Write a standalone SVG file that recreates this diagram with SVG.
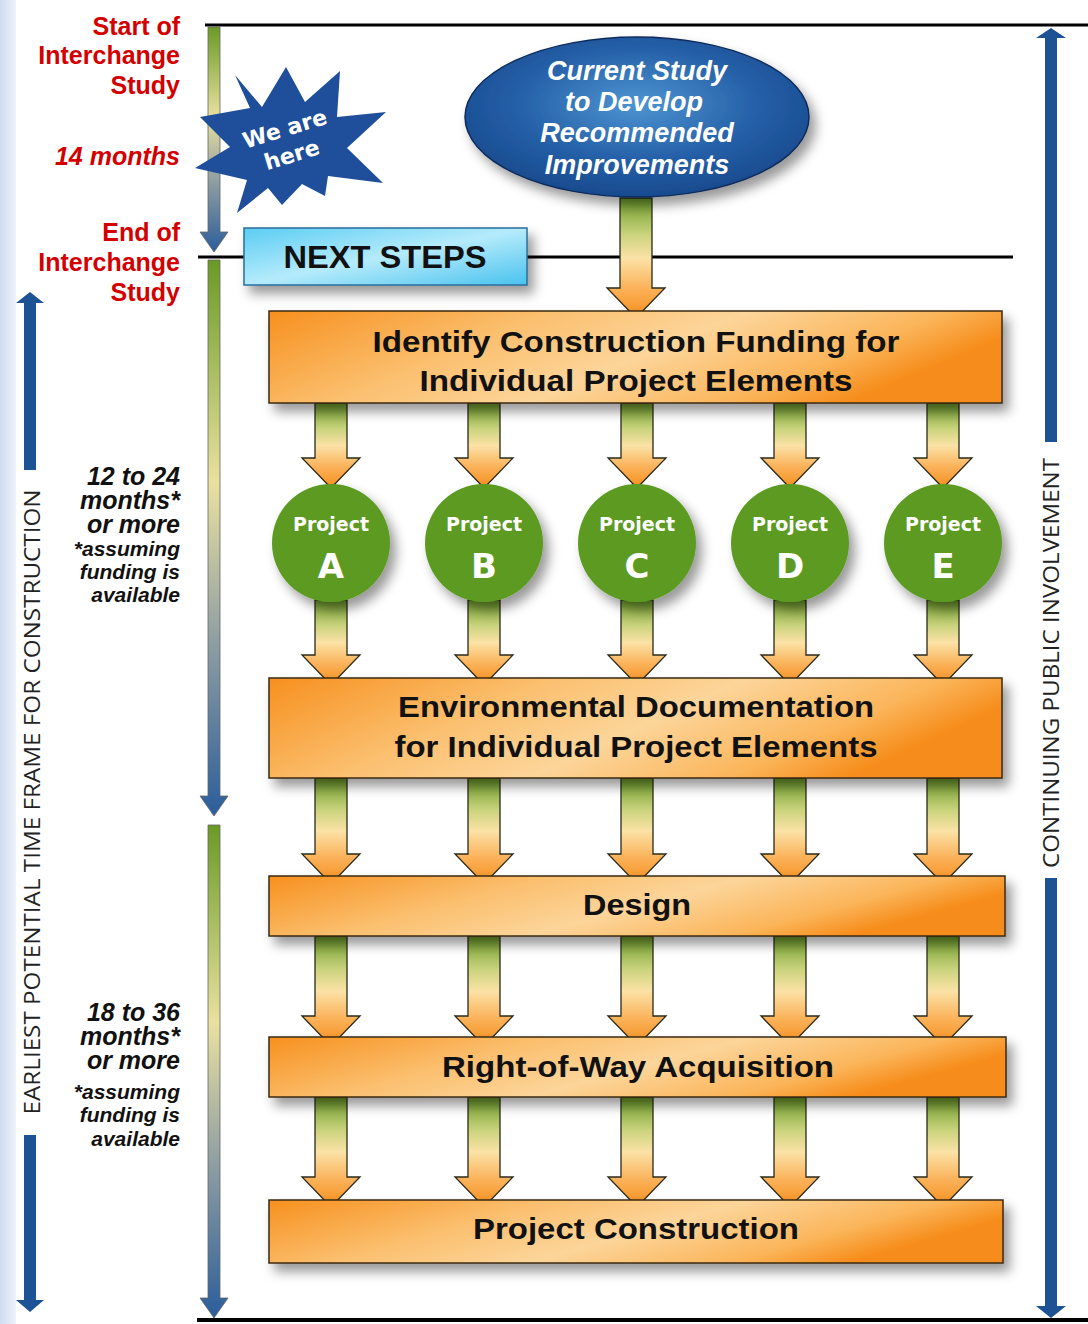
<svg xmlns="http://www.w3.org/2000/svg" width="1088" height="1324" viewBox="0 0 1088 1324">
<defs>
<style>
.red{font-family:"Liberation Sans",Arial,sans-serif;font-weight:bold;font-size:25px;fill:#d40000;text-anchor:end}
.note{font-family:"Liberation Sans",Arial,sans-serif;font-weight:bold;font-style:italic;fill:#111;text-anchor:end}
.box{fill:url(#boxg);stroke:#3a2a10;stroke-width:1.5;filter:url(#sh)}
.bt{font-family:"Liberation Sans",Arial,sans-serif;font-weight:bold;font-size:30px;fill:#111;text-anchor:middle}
.et{font-family:"Liberation Sans",Arial,sans-serif;font-weight:bold;font-style:italic;font-size:27px;fill:#fff;text-anchor:middle}
.arr{fill:url(#arrg);stroke:#2a2a1a;stroke-width:1.3}
.circ{fill:#5b9a22;filter:url(#sh)}
.pt{font-family:"DejaVu Sans",Verdana,sans-serif;font-weight:bold;fill:#fff;text-anchor:middle}
.side{font-family:"Open Sans","DejaVu Sans",sans-serif;font-size:22px;fill:#222;text-anchor:middle}
.blue{fill:#1d5294}
.tl{fill:url(#tlg);stroke:#666;stroke-width:0.8}
</style>
<linearGradient id="boxg" x1="0" y1="0" x2="1" y2="0.3">
<stop offset="0" stop-color="#f7901e"/>
<stop offset="0.35" stop-color="#fbbf6e"/>
<stop offset="0.6" stop-color="#fcd59a"/>
<stop offset="0.85" stop-color="#fbb55a"/>
<stop offset="1" stop-color="#f68c1a"/>
</linearGradient>
<linearGradient id="arrg" x1="0" y1="0" x2="0" y2="1">
<stop offset="0" stop-color="#6a9828"/>
<stop offset="0.3" stop-color="#c9d37c"/>
<stop offset="0.5" stop-color="#fbe2a6"/>
<stop offset="0.75" stop-color="#fbb25a"/>
<stop offset="1" stop-color="#f68e1c"/>
</linearGradient>
<linearGradient id="tlg" x1="0" y1="0" x2="0" y2="1">
<stop offset="0" stop-color="#6a9a25"/>
<stop offset="0.4" stop-color="#e9e1a0"/>
<stop offset="0.65" stop-color="#9aa6a2"/>
<stop offset="1" stop-color="#2b5d9b"/>
</linearGradient>
<linearGradient id="nsg" x1="0" y1="0" x2="1" y2="1">
<stop offset="0" stop-color="#5bcdf3"/>
<stop offset="0.5" stop-color="#b5ebfb"/>
<stop offset="1" stop-color="#49c2ee"/>
</linearGradient>
<radialGradient id="elg" cx="0.5" cy="0.42" r="0.6">
<stop offset="0" stop-color="#4d95d2"/>
<stop offset="0.6" stop-color="#245ea6"/>
<stop offset="1" stop-color="#17498c"/>
</radialGradient>
<linearGradient id="lbg" x1="0" y1="0" x2="1" y2="0">
<stop offset="0" stop-color="#cfdcf1"/>
<stop offset="1" stop-color="#eef2fa"/>
</linearGradient>
<linearGradient id="glg" x1="0" y1="0" x2="1" y2="0">
<stop offset="0" stop-color="#333"/>
<stop offset="1" stop-color="#ddd"/>
</linearGradient>
<filter id="sh" x="-20%" y="-30%" width="140%" height="170%">
<feDropShadow dx="6" dy="8" stdDeviation="6" flood-color="#000" flood-opacity="0.4"/>
</filter>
<path id="a85" d="M-16,0 L16,0 L16,55 L29,55 L0,85 L-29,55 L-16,55 Z"/>
<path id="a106" d="M-16,0 L16,0 L16,76 L29,76 L0,106 L-29,76 L-16,76 Z"/>
<path id="a110" d="M-16,0 L16,0 L16,80 L29,80 L0,110 L-29,80 L-16,80 Z"/>
<path id="a120" d="M-16,0 L16,0 L16,90 L29,90 L0,120 L-29,90 L-16,90 Z"/>
</defs>

<rect width="1088" height="1324" fill="#ffffff"/>
<rect x="0" y="0" width="16" height="1324" fill="url(#lbg)"/>

<g id="frame">
<line x1="205" y1="25" x2="1088" y2="25" stroke="#000" stroke-width="3"/>
<line x1="198" y1="257" x2="1013" y2="257" stroke="#000" stroke-width="3"/>
<line x1="200" y1="822" x2="320" y2="822" stroke="url(#glg)" stroke-width="3"/>
<line x1="197" y1="1320" x2="1088" y2="1320" stroke="#000" stroke-width="4"/>
</g>

<g id="timeline">
<path class="tl" d="M208,27 L220,27 L220,232 L228,232 L214,252 L200,232 L208,232 Z"/>
<path class="tl" d="M208,260 L220,260 L220,796 L228,796 L214,816 L200,796 L208,796 Z"/>
<path class="tl" d="M208,825 L220,825 L220,1298 L228,1298 L214,1318 L200,1298 L208,1298 Z"/>
</g>

<g id="left-labels">
<text class="red" x="180" y="35">Start of</text>
<text class="red" x="180" y="64">Interchange</text>
<text class="red" x="180" y="94">Study</text>
<text class="red" x="180" y="165" font-style="italic">14 months</text>
<text class="red" x="180" y="241">End of</text>
<text class="red" x="180" y="271">Interchange</text>
<text class="red" x="180" y="301">Study</text>
<text class="note" x="180" y="485" font-size="25">12 to 24</text>
<text class="note" x="180" y="509" font-size="25">months*</text>
<text class="note" x="180" y="533" font-size="25">or more</text>
<text class="note" x="180" y="556" font-size="21">*assuming</text>
<text class="note" x="180" y="579" font-size="21">funding is</text>
<text class="note" x="180" y="602" font-size="21">available</text>
<text class="note" x="180" y="1021" font-size="25">18 to 36</text>
<text class="note" x="180" y="1045" font-size="25">months*</text>
<text class="note" x="180" y="1069" font-size="25">or more</text>
<text class="note" x="180" y="1099" font-size="21">*assuming</text>
<text class="note" x="180" y="1122" font-size="21">funding is</text>
<text class="note" x="180" y="1146" font-size="21">available</text>
</g>

<g id="left-span">
<path class="blue" d="M30,292 L44,303 L36,303 L36,470 L24,470 L24,303 L16,303 Z"/>
<path class="blue" d="M24,1135 L36,1135 L36,1300 L44,1300 L30,1312 L16,1300 L24,1300 Z"/>
<text class="side" transform="translate(40,802) rotate(-90)" textLength="625" lengthAdjust="spacingAndGlyphs">EARLIEST POTENTIAL TIME FRAME FOR CONSTRUCTION</text>
</g>

<g id="right-span">
<path class="blue" d="M1051,28 L1066,38 L1057,38 L1057,442 L1045,442 L1045,38 L1036,38 Z"/>
<path class="blue" d="M1045,878 L1057,878 L1057,1306 L1066,1306 L1051,1318 L1036,1306 L1045,1306 Z"/>
<text class="side" transform="translate(1059,663) rotate(-90)" textLength="410" lengthAdjust="spacingAndGlyphs">CONTINUING PUBLIC INVOLVEMENT</text>
</g>

<g id="star">
<path fill="#1f4f9a" d="M235,75 L262,107 L286,67 L305,102 L340,71 L337,117 L386,112 L347,148 L383,183 L328,176 L325,196 L302,184 L282,205 L268,188 L237,213 L247,180 L195,168 L230,147 L200,117 L250,108 Z"/>
<text class="pt" font-size="22" transform="translate(287,136) rotate(-17)">We are</text>
<text class="pt" font-size="22" transform="translate(294,162) rotate(-17)">here</text>
</g>

<g id="connectors">
<use href="#a120" class="arr" x="636" y="198"/>
<use href="#a85" class="arr" x="331" y="403"/>
<use href="#a85" class="arr" x="484" y="403"/>
<use href="#a85" class="arr" x="637" y="403"/>
<use href="#a85" class="arr" x="790" y="403"/>
<use href="#a85" class="arr" x="943" y="403"/>
<use href="#a85" class="arr" x="331" y="600"/>
<use href="#a85" class="arr" x="484" y="600"/>
<use href="#a85" class="arr" x="637" y="600"/>
<use href="#a85" class="arr" x="790" y="600"/>
<use href="#a85" class="arr" x="943" y="600"/>
<use href="#a106" class="arr" x="331" y="778"/>
<use href="#a106" class="arr" x="484" y="778"/>
<use href="#a106" class="arr" x="637" y="778"/>
<use href="#a106" class="arr" x="790" y="778"/>
<use href="#a106" class="arr" x="943" y="778"/>
<use href="#a110" class="arr" x="331" y="936"/>
<use href="#a110" class="arr" x="484" y="936"/>
<use href="#a110" class="arr" x="637" y="936"/>
<use href="#a110" class="arr" x="790" y="936"/>
<use href="#a110" class="arr" x="943" y="936"/>
<use href="#a110" class="arr" x="331" y="1097"/>
<use href="#a110" class="arr" x="484" y="1097"/>
<use href="#a110" class="arr" x="637" y="1097"/>
<use href="#a110" class="arr" x="790" y="1097"/>
<use href="#a110" class="arr" x="943" y="1097"/>
</g>

<g id="current-study">
<ellipse cx="637" cy="117" rx="172" ry="80" fill="url(#elg)" stroke="#0e2c5a" stroke-width="1.5" filter="url(#sh)"/>
<text class="et" x="637" y="80">Current Study</text>
<text class="et" x="634" y="111">to Develop</text>
<text class="et" x="637" y="142">Recommended</text>
<text class="et" x="637" y="174">Improvements</text>
</g>

<g id="next-steps">
<rect x="244" y="228" width="283" height="57" fill="url(#nsg)" stroke="#2a6e9a" stroke-width="1.5" filter="url(#sh)"/>
<text x="385" y="268" font-family="Liberation Sans, Arial, sans-serif" font-weight="bold" font-size="31" fill="#111" text-anchor="middle" textLength="203" lengthAdjust="spacingAndGlyphs">NEXT STEPS</text>
</g>

<g id="funding">
<rect class="box" x="269" y="311" width="733" height="92"/>
<text class="bt" x="636" y="352" textLength="527" lengthAdjust="spacingAndGlyphs">Identify Construction Funding for</text>
<text class="bt" x="636" y="391" textLength="433" lengthAdjust="spacingAndGlyphs">Individual Project Elements</text>
</g>

<g id="project-a"><circle class="circ" cx="331" cy="543" r="59"/><text class="pt" x="331" y="531" font-size="19">Project</text><text class="pt" x="331" y="578" font-size="34">A</text></g>
<g id="project-b"><circle class="circ" cx="484" cy="543" r="59"/><text class="pt" x="484" y="531" font-size="19">Project</text><text class="pt" x="484" y="578" font-size="34">B</text></g>
<g id="project-c"><circle class="circ" cx="637" cy="543" r="59"/><text class="pt" x="637" y="531" font-size="19">Project</text><text class="pt" x="637" y="578" font-size="34">C</text></g>
<g id="project-d"><circle class="circ" cx="790" cy="543" r="59"/><text class="pt" x="790" y="531" font-size="19">Project</text><text class="pt" x="790" y="578" font-size="34">D</text></g>
<g id="project-e"><circle class="circ" cx="943" cy="543" r="59"/><text class="pt" x="943" y="531" font-size="19">Project</text><text class="pt" x="943" y="578" font-size="34">E</text></g>

<g id="environmental">
<rect class="box" x="269" y="678" width="733" height="100"/>
<text class="bt" x="636" y="717" textLength="476" lengthAdjust="spacingAndGlyphs">Environmental Documentation</text>
<text class="bt" x="636" y="757" textLength="483" lengthAdjust="spacingAndGlyphs">for Individual Project Elements</text>
</g>

<g id="design">
<rect class="box" x="269" y="876" width="736" height="60"/>
<text class="bt" x="637" y="915" textLength="108" lengthAdjust="spacingAndGlyphs">Design</text>
</g>

<g id="row">
<rect class="box" x="269" y="1037" width="737" height="60"/>
<text class="bt" x="638" y="1077" textLength="392" lengthAdjust="spacingAndGlyphs">Right-of-Way Acquisition</text>
</g>

<g id="construction">
<rect class="box" x="269" y="1200" width="734" height="63"/>
<text class="bt" x="636" y="1239" textLength="326" lengthAdjust="spacingAndGlyphs">Project Construction</text>
</g>
</svg>
